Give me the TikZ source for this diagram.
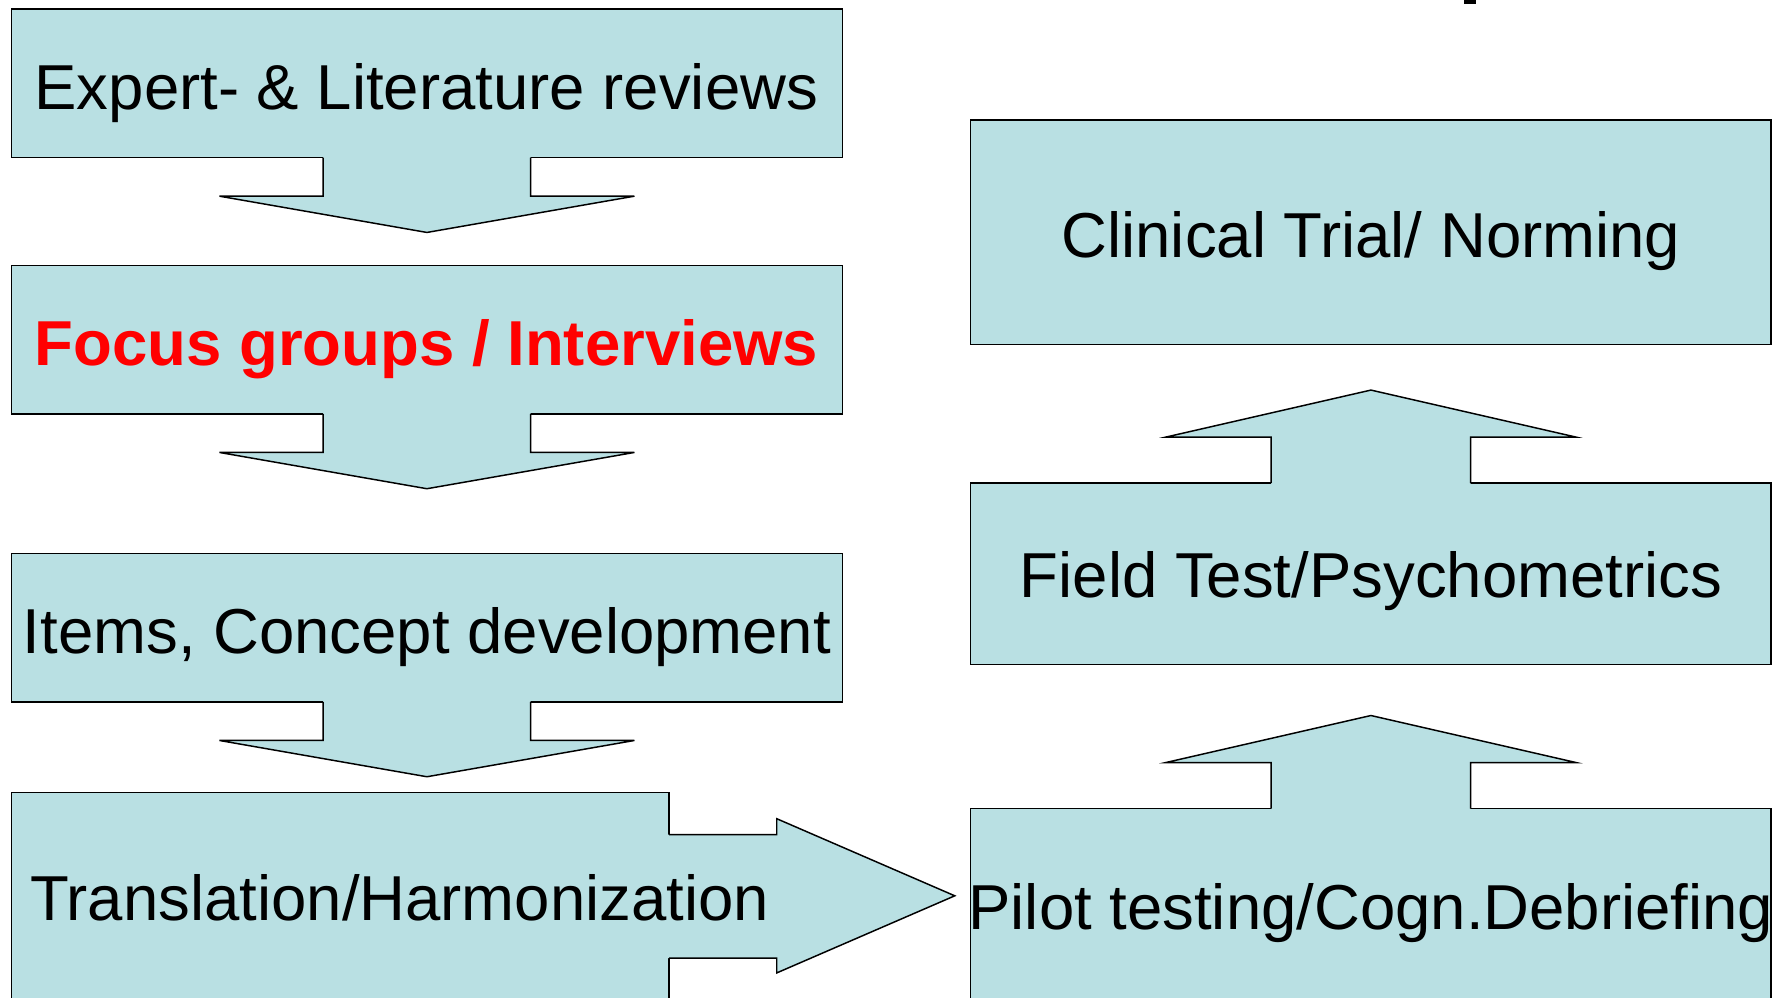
\documentclass[tikz,border=0pt]{standalone}
\usepackage{fontspec}
\setmainfont{Liberation Sans}
\usetikzlibrary{calc}
\definecolor{boxfill}{RGB}{185,224,227}
\definecolor{redtext}{RGB}{255,0,0}
\tikzset{
  stage/.style={draw=black, fill=boxfill, line width=1.3pt, rectangle, inner sep=0pt, outer sep=0pt},
  lbl/.style={font=\fontsize{56}{60}\selectfont, anchor=base, inner sep=0pt},
  blk/.style={fill=boxfill, draw=none},
  blkline/.style={draw=black, line width=1.3pt, line join=miter},
}
\begin{document}
\begin{tikzpicture}[x=1pt,y=-1pt]
\clip (0,0) rectangle (1568,880);
% boxes
\node[stage, minimum width=733pt, minimum height=131pt] (b1) at (376.5,73.5) {};
\node[stage, minimum width=733pt, minimum height=131pt] (b2) at (376.5,299.5) {};
\node[stage, minimum width=733pt, minimum height=131pt] (b3) at (376.5,553.5) {};
\node[stage, minimum width=580pt, minimum height=240pt] (b4) at (300,819) {};
\node[stage, minimum width=706pt, minimum height=198pt] (r1) at (1209,205) {};
\node[stage, minimum width=706pt, minimum height=160pt] (r2) at (1209,506) {};
\node[stage, minimum width=706pt, minimum height=240pt] (r3) at (1209,833) {};
% down arrows from left boxes
\foreach \a in {b1,b2,b3}{
  \fill[blk] ($(\a.south)+(-91.5,-2)$) -- ($(\a.south)+(-91.5,34)$) -- ($(\a.south)+(-183,34)$)
     -- ($(\a.south)+(0,66)$) -- ($(\a.south)+(183,34)$) -- ($(\a.south)+(91.5,34)$) -- ($(\a.south)+(91.5,-2)$) -- cycle;
  \draw[blkline] ($(\a.south)+(-91.5,0)$) -- ($(\a.south)+(-91.5,34)$) -- ($(\a.south)+(-183,34)$)
     -- ($(\a.south)+(0,66)$) -- ($(\a.south)+(183,34)$) -- ($(\a.south)+(91.5,34)$) -- ($(\a.south)+(91.5,0)$);
}
% up arrows from right boxes
\foreach \a in {r2,r3}{
  \fill[blk] ($(\a.north)+(-88,2)$) -- ($(\a.north)+(-88,-40.5)$) -- ($(\a.north)+(-181,-40.5)$)
     -- ($(\a.north)+(0,-82)$) -- ($(\a.north)+(181,-40.5)$) -- ($(\a.north)+(88,-40.5)$) -- ($(\a.north)+(88,2)$) -- cycle;
  \draw[blkline] ($(\a.north)+(-88,0)$) -- ($(\a.north)+(-88,-40.5)$) -- ($(\a.north)+(-181,-40.5)$)
     -- ($(\a.north)+(0,-82)$) -- ($(\a.north)+(181,-40.5)$) -- ($(\a.north)+(88,-40.5)$) -- ($(\a.north)+(88,0)$);
}
% right arrow from translation box
\coordinate (rt) at (b4.north east);
\fill[blk] ($(rt)+(-2,37)$) -- ($(rt)+(95,37)$) -- ($(rt)+(95,23)$) -- ($(rt)+(252,91)$)
   -- ($(rt)+(95,159)$) -- ($(rt)+(95,146)$) -- ($(rt)+(-2,146)$) -- cycle;
\draw[blkline] ($(rt)+(0,37)$) -- ($(rt)+(95,37)$) -- ($(rt)+(95,23)$) -- ($(rt)+(252,91)$)
   -- ($(rt)+(95,159)$) -- ($(rt)+(95,146)$) -- ($(rt)+(0,146)$);
% labels
\node[lbl] (t1) at (376,97) {Expert- \& Literature reviews};
\node[lbl, text=redtext, font=\fontsize{56}{60}\selectfont\bfseries] (t2) at (376,322) {Focus groups / Interviews};
\node[lbl] (t3) at (376.5,576) {Items, Concept development};
\node[lbl] (t4) at (352.5,812) {Translation/Harmonization};
\node[lbl] (t5) at (1209,227) {Clinical Trial/ Norming};
\node[lbl] (t6) at (1209,527) {Field Test/Psychometrics};
\node[lbl] (t7) at (1209,820) {Pilot testing/Cogn.Debriefing};
% fragment of cut-off title
\fill[black] (1291,0) rectangle (1302,3.5);
\end{tikzpicture}
\end{document}
